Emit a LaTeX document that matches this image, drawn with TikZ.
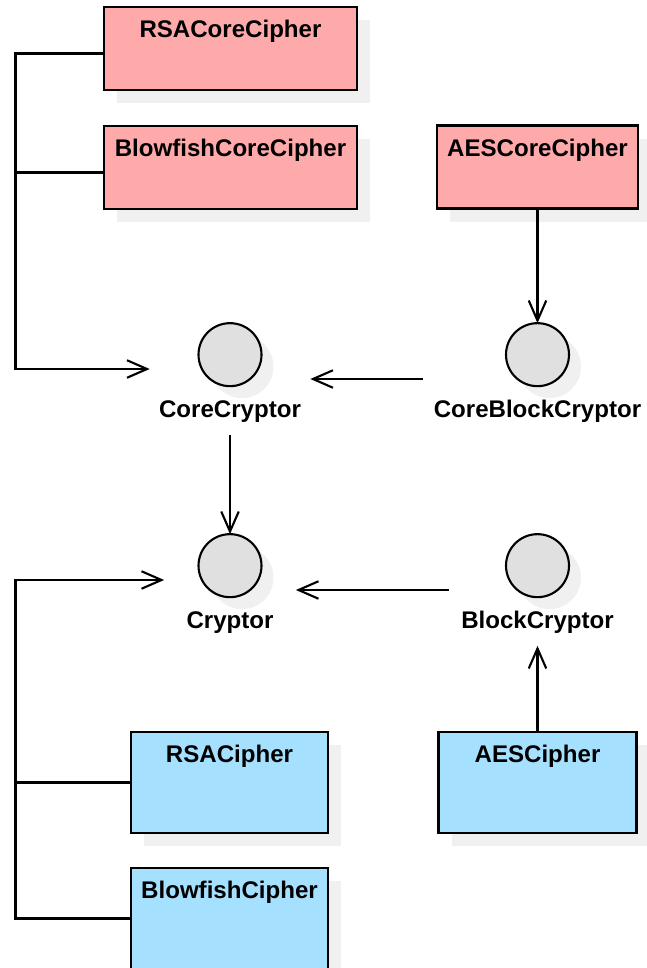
\documentclass[tikz,border=0pt]{standalone}
\usepackage{fontspec}
\setmainfont{Liberation Sans}
\usetikzlibrary{arrows.meta,shadows}
\definecolor{corepink}{RGB}{255,170,170}
\definecolor{cipherblue}{RGB}{166,224,255}
\definecolor{ballgray}{RGB}{224,224,224}
\definecolor{shadowgray}{RGB}{240,240,240}
\begin{document}
\begin{tikzpicture}[
  every node/.style={font=\fontsize{13.7}{16}\selectfont\bfseries},
  flat shadow/.style={general shadow={fill=shadowgray, shadow xshift=0.26cm, shadow yshift=-0.26cm}},
  cls/.style={draw, line width=1.2pt, flat shadow, minimum height=1.66cm, inner sep=0pt,
    label={[anchor=base, yshift=-0.64cm]north:#1}},
  corecls/.style={cls=#1, fill=corepink},
  ciphcls/.style={cls=#1, fill=cipherblue, minimum height=2.02cm},
  iface/.style={minimum height=2.22cm, inner sep=0pt},
  ball/.style={circle, draw, line width=1.2pt, fill=ballgray, minimum size=1.26cm, inner sep=0pt,
    general shadow={fill=shadowgray, shadow xshift=0.24cm, shadow yshift=-0.24cm}},
  ilabel/.style={anchor=base},
  real/.style={line width=1.2pt, -{Straight Barb[length=4mm, width=3.5mm]}}
]
\useasboundingbox (0,0) rectangle (12.92,-19.36);
%%%%
\node[corecls=RSACoreCipher, minimum width=5.06cm] (rsacore) at (4.61,-0.97) {};
\node[corecls=BlowfishCoreCipher, minimum width=5.06cm] (blowcore) at (4.61,-3.35) {};
\node[corecls=AESCoreCipher, minimum width=4.02cm] (aescore) at (10.75,-3.34) {};
\node[ciphcls=RSACipher, minimum width=3.94cm] (rsaciph) at (4.59,-15.65) {};
\node[ciphcls=BlowfishCipher, minimum width=3.94cm] (blowciph) at (4.59,-18.37) {};
\node[ciphcls=AESCipher, minimum width=3.96cm] (aesciph) at (10.75,-15.65) {};
%%%%
\node[iface, minimum width=3.2cm] (corecryptor) at (4.6,-7.58) {};
\node[iface, minimum width=4.56cm] (coreblock) at (10.75,-7.58) {};
\node[iface, minimum width=2.62cm] (cryptor) at (4.6,-11.8) {};
\node[iface, minimum width=3.52cm] (blockcryptor) at (10.75,-11.8) {};
\node[ball] (corecryptorball) at ([yshift=-0.63cm]corecryptor.north) {};
\node[ball] (coreblockball) at ([yshift=-0.63cm]coreblock.north) {};
\node[ball] (cryptorball) at ([yshift=-0.63cm]cryptor.north) {};
\node[ball] (blockcryptorball) at ([yshift=-0.63cm]blockcryptor.north) {};
\node[ilabel] (corecryptortext) at ([yshift=-1.88cm]corecryptor.north) {CoreCryptor};
\node[ilabel] (coreblocktext) at ([yshift=-1.88cm]coreblock.north) {CoreBlockCryptor};
\node[ilabel] (cryptortext) at ([yshift=-1.88cm]cryptor.north) {Cryptor};
\node[ilabel] (blockcryptortext) at ([yshift=-1.88cm]blockcryptor.north) {BlockCryptor};
%%%%
\coordinate (trunk) at (0.31,0);
\draw[real] ([yshift=-1mm]rsacore.west) -- ([yshift=-1mm]rsacore.west -| trunk) |- ([yshift=2mm]corecryptor.west);
\draw[line width=1.2pt] ([yshift=-1mm]blowcore.west) -- ([yshift=-1mm]blowcore.west -| trunk);
\draw[real] (blowciph.west) -- (blowciph.west -| trunk) |- ([yshift=2mm]cryptor.west);
\draw[line width=1.2pt] (rsaciph.west) -- (rsaciph.west -| trunk);
\draw[real] (aescore.south) -- (coreblock.north);
\draw[real] (coreblock.west) -- (corecryptor.east);
\draw[real] (corecryptor.south) -- (cryptor.north);
\draw[real] (blockcryptor.west) -- (cryptor.east);
\draw[real] (aesciph.north) -- (blockcryptor.south);
\end{tikzpicture}
\end{document}
